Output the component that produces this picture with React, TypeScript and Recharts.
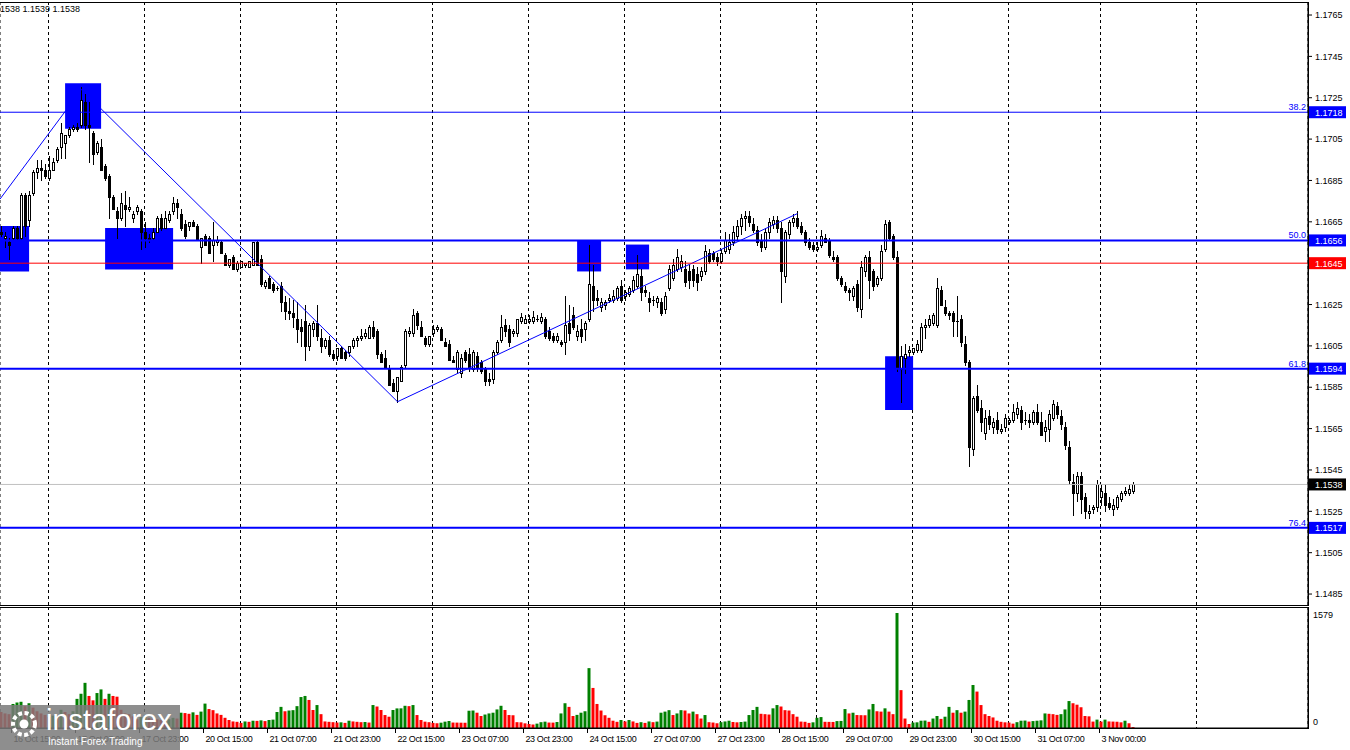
import { ComposedChart, Bar, XAxis, YAxis, CartesianGrid, ReferenceLine, ReferenceArea, Cell } from 'recharts';

type Candle = [number, number, number, number]; // open, high, low, close

const FONT = '"Liberation Sans", Arial, sans-serif';

// H1 candles, one array per trading day
const oct16: Candle[] = [
  [1.1660, 1.1663, 1.1658, 1.1659], [1.1657, 1.1660, 1.1653, 1.1658], [1.1655, 1.1657, 1.1647, 1.1654],
  [1.1657, 1.1663, 1.1656, 1.1662], [1.1662, 1.1663, 1.1656, 1.1657], [1.1657, 1.1679, 1.1656, 1.1678],
  [1.1678, 1.1679, 1.1658, 1.1663], [1.1666, 1.1680, 1.1663, 1.1678], [1.1679, 1.1690, 1.1678, 1.1689],
  [1.1689, 1.1695, 1.1686, 1.1691], [1.1691, 1.1695, 1.1685, 1.1690],
];
const oct17: Candle[] = [
  [1.1690, 1.1693, 1.1686, 1.1687], [1.1686, 1.1697, 1.1685, 1.1690], [1.1690, 1.1696, 1.1690, 1.1694],
  [1.1695, 1.1701, 1.1694, 1.1700], [1.1701, 1.1713, 1.1696, 1.1708], [1.1703, 1.1707, 1.1696, 1.1707],
  [1.1707, 1.1711, 1.1706, 1.1710], [1.1710, 1.1712, 1.1709, 1.1711], [1.1711, 1.1713, 1.1709, 1.1710],
  [1.1712, 1.1730, 1.1711, 1.1724], [1.1723, 1.1727, 1.1710, 1.1712], [1.1712, 1.1723, 1.1694, 1.1711],
  [1.1708, 1.1709, 1.1693, 1.1698], [1.1699, 1.1704, 1.1698, 1.1703], [1.1701, 1.1705, 1.1690, 1.1690],
  [1.1692, 1.1693, 1.1685, 1.1686], [1.1687, 1.1688, 1.1667, 1.1677], [1.1677, 1.1678, 1.1671, 1.1671],
  [1.1670, 1.1672, 1.1657, 1.1667], [1.1667, 1.1679, 1.1666, 1.1674], [1.1673, 1.1680, 1.1663, 1.1671],
  [1.1671, 1.1677, 1.1670, 1.1672], [1.1667, 1.1670, 1.1665, 1.1669], [1.1670, 1.1673, 1.1669, 1.1672],
];
const oct20: Candle[] = [
  [1.1670, 1.1671, 1.1652, 1.1660], [1.1660, 1.1665, 1.1653, 1.1657], [1.1657, 1.1659, 1.1655, 1.1656],
  [1.1657, 1.1662, 1.1656, 1.1660], [1.1660, 1.1668, 1.1660, 1.1667], [1.1667, 1.1669, 1.1661, 1.1662],
  [1.1662, 1.1670, 1.1662, 1.1667], [1.1666, 1.1670, 1.1665, 1.1669], [1.1670, 1.1677, 1.1669, 1.1674],
  [1.1674, 1.1676, 1.1667, 1.1672], [1.1669, 1.1671, 1.1661, 1.1662], [1.1664, 1.1666, 1.1657, 1.1658],
  [1.1663, 1.1665, 1.1661, 1.1665], [1.1665, 1.1666, 1.1663, 1.1663], [1.1663, 1.1664, 1.1656, 1.1656],
  [1.1653, 1.1657, 1.1645, 1.1657], [1.1658, 1.1659, 1.1654, 1.1654], [1.1657, 1.1658, 1.1650, 1.1650],
  [1.1654, 1.1665, 1.1646, 1.1656], [1.1655, 1.1658, 1.1654, 1.1656], [1.1655, 1.1656, 1.1650, 1.1650],
  [1.1649, 1.1650, 1.1644, 1.1644], [1.1644, 1.1647, 1.1643, 1.1647], [1.1648, 1.1649, 1.1642, 1.1642],
];
const oct21: Candle[] = [
  [1.1642, 1.1646, 1.1641, 1.1645], [1.1643, 1.1646, 1.1643, 1.1646], [1.1644, 1.1645, 1.1643, 1.1645],
  [1.1643, 1.1646, 1.1643, 1.1646], [1.1644, 1.1655, 1.1644, 1.1655], [1.1655, 1.1656, 1.1644, 1.1644],
  [1.1647, 1.1649, 1.1634, 1.1635], [1.1634, 1.1637, 1.1633, 1.1636], [1.1638, 1.1639, 1.1633, 1.1633],
  [1.1635, 1.1636, 1.1631, 1.1632], [1.1633, 1.1634, 1.1632, 1.1633], [1.1634, 1.1636, 1.1622, 1.1626],
  [1.1626, 1.1629, 1.1618, 1.1622], [1.1622, 1.1628, 1.1618, 1.1621], [1.1621, 1.1627, 1.1614, 1.1619],
  [1.1618, 1.1626, 1.1607, 1.1613], [1.1614, 1.1618, 1.1605, 1.1612], [1.1617, 1.1625, 1.1598, 1.1605],
  [1.1605, 1.1616, 1.1603, 1.1615], [1.1613, 1.1617, 1.1610, 1.1616], [1.1616, 1.1625, 1.1608, 1.1610],
  [1.1609, 1.1613, 1.1602, 1.1605], [1.1605, 1.1609, 1.1604, 1.1608], [1.1608, 1.1610, 1.1600, 1.1601],
];
const oct22: Candle[] = [
  [1.1601, 1.1603, 1.1598, 1.1599], [1.1600, 1.1604, 1.1598, 1.1604], [1.1604, 1.1605, 1.1599, 1.1599],
  [1.1602, 1.1603, 1.1598, 1.1599], [1.1602, 1.1605, 1.1600, 1.1605], [1.1605, 1.1609, 1.1604, 1.1608],
  [1.1608, 1.1610, 1.1605, 1.1609], [1.1609, 1.1613, 1.1608, 1.1610], [1.1610, 1.1613, 1.1609, 1.1611],
  [1.1609, 1.1615, 1.1609, 1.1614], [1.1614, 1.1617, 1.1609, 1.1610], [1.1612, 1.1613, 1.1599, 1.1601],
  [1.1601, 1.1602, 1.1597, 1.1597], [1.1599, 1.1603, 1.1595, 1.1595], [1.1594, 1.1596, 1.1586, 1.1586],
  [1.1587, 1.1589, 1.1583, 1.1583], [1.1583, 1.1590, 1.1578, 1.1590], [1.1588, 1.1596, 1.1588, 1.1595],
  [1.1596, 1.1613, 1.1595, 1.1612], [1.1611, 1.1614, 1.1610, 1.1612], [1.1611, 1.1623, 1.1610, 1.1620],
  [1.1621, 1.1622, 1.1613, 1.1615], [1.1614, 1.1617, 1.1610, 1.1610], [1.1609, 1.1610, 1.1605, 1.1606],
];
const oct23: Candle[] = [
  [1.1606, 1.1610, 1.1605, 1.1610], [1.1611, 1.1615, 1.1610, 1.1613], [1.1613, 1.1615, 1.1612, 1.1614],
  [1.1613, 1.1614, 1.1608, 1.1608], [1.1607, 1.1609, 1.1605, 1.1605], [1.1606, 1.1608, 1.1598, 1.1598],
  [1.1598, 1.1600, 1.1597, 1.1597], [1.1594, 1.1603, 1.1592, 1.1602], [1.1592, 1.1601, 1.1590, 1.1599],
  [1.1602, 1.1603, 1.1597, 1.1598], [1.1601, 1.1604, 1.1593, 1.1595], [1.1594, 1.1603, 1.1593, 1.1602],
  [1.1600, 1.1602, 1.1593, 1.1595], [1.1597, 1.1598, 1.1592, 1.1593], [1.1594, 1.1595, 1.1586, 1.1588],
  [1.1589, 1.1592, 1.1586, 1.1588], [1.1589, 1.1603, 1.1587, 1.1602], [1.1602, 1.1608, 1.1601, 1.1607],
  [1.1608, 1.1620, 1.1607, 1.1614], [1.1615, 1.1618, 1.1610, 1.1612], [1.1613, 1.1615, 1.1605, 1.1607],
  [1.1611, 1.1613, 1.1610, 1.1612], [1.1611, 1.1618, 1.1610, 1.1618], [1.1617, 1.1621, 1.1616, 1.1619],
];
const oct24: Candle[] = [
  [1.1616, 1.1620, 1.1616, 1.1618], [1.1617, 1.1620, 1.1616, 1.1618], [1.1617, 1.1622, 1.1616, 1.1619],
  [1.1618, 1.1620, 1.1617, 1.1618], [1.1617, 1.1621, 1.1616, 1.1619], [1.1618, 1.1619, 1.1609, 1.1610],
  [1.1612, 1.1614, 1.1608, 1.1609], [1.1610, 1.1611, 1.1607, 1.1608], [1.1608, 1.1611, 1.1607, 1.1610],
  [1.1607, 1.1608, 1.1605, 1.1606], [1.1607, 1.1629, 1.1601, 1.1615], [1.1616, 1.1625, 1.1608, 1.1611],
  [1.1620, 1.1624, 1.1613, 1.1614], [1.1610, 1.1615, 1.1608, 1.1612], [1.1613, 1.1618, 1.1607, 1.1610],
  [1.1613, 1.1617, 1.1608, 1.1616], [1.1618, 1.1654, 1.1617, 1.1635], [1.1634, 1.1644, 1.1622, 1.1627],
  [1.1628, 1.1632, 1.1625, 1.1627], [1.1624, 1.1628, 1.1622, 1.1626], [1.1625, 1.1627, 1.1623, 1.1626],
  [1.1627, 1.1630, 1.1626, 1.1628], [1.1627, 1.1632, 1.1626, 1.1629], [1.1628, 1.1634, 1.1627, 1.1633],
];
const oct27: Candle[] = [
  [1.1634, 1.1637, 1.1626, 1.1627], [1.1629, 1.1632, 1.1627, 1.1631], [1.1630, 1.1634, 1.1629, 1.1633],
  [1.1632, 1.1639, 1.1631, 1.1637], [1.1634, 1.1649, 1.1633, 1.1640], [1.1639, 1.1642, 1.1627, 1.1631],
  [1.1632, 1.1634, 1.1629, 1.1631], [1.1628, 1.1631, 1.1622, 1.1626], [1.1627, 1.1629, 1.1625, 1.1627],
  [1.1626, 1.1629, 1.1624, 1.1628], [1.1626, 1.1628, 1.1620, 1.1621], [1.1623, 1.1631, 1.1621, 1.1629],
  [1.1633, 1.1644, 1.1632, 1.1642], [1.1638, 1.1647, 1.1637, 1.1644], [1.1642, 1.1652, 1.1641, 1.1648],
  [1.1643, 1.1649, 1.1641, 1.1646], [1.1642, 1.1646, 1.1634, 1.1636], [1.1641, 1.1644, 1.1633, 1.1637],
  [1.1642, 1.1644, 1.1634, 1.1637], [1.1640, 1.1643, 1.1632, 1.1636], [1.1639, 1.1643, 1.1637, 1.1641],
  [1.1641, 1.1654, 1.1640, 1.1651], [1.1650, 1.1652, 1.1645, 1.1646], [1.1650, 1.1651, 1.1646, 1.1647],
];
const oct28: Candle[] = [
  [1.1648, 1.1650, 1.1644, 1.1646], [1.1646, 1.1652, 1.1645, 1.1650], [1.1651, 1.1660, 1.1650, 1.1656],
  [1.1652, 1.1659, 1.1650, 1.1655], [1.1655, 1.1663, 1.1654, 1.1660], [1.1658, 1.1666, 1.1656, 1.1663],
  [1.1663, 1.1669, 1.1659, 1.1667], [1.1667, 1.1670, 1.1661, 1.1668], [1.1668, 1.1670, 1.1663, 1.1665],
  [1.1664, 1.1667, 1.1660, 1.1661], [1.1661, 1.1663, 1.1654, 1.1655], [1.1656, 1.1659, 1.1651, 1.1653],
  [1.1653, 1.1662, 1.1652, 1.1660], [1.1660, 1.1667, 1.1657, 1.1665], [1.1664, 1.1668, 1.1662, 1.1666],
  [1.1666, 1.1668, 1.1660, 1.1662], [1.1662, 1.1665, 1.1626, 1.1641], [1.1639, 1.1661, 1.1636, 1.1660],
  [1.1659, 1.1666, 1.1657, 1.1665], [1.1665, 1.1669, 1.1663, 1.1667], [1.1667, 1.1670, 1.1662, 1.1663],
  [1.1663, 1.1665, 1.1659, 1.1660], [1.1660, 1.1661, 1.1654, 1.1655], [1.1655, 1.1657, 1.1652, 1.1653],
];
const oct29: Candle[] = [
  [1.1654, 1.1655, 1.1651, 1.1652], [1.1652, 1.1655, 1.1651, 1.1653], [1.1654, 1.1661, 1.1653, 1.1658],
  [1.1657, 1.1659, 1.1655, 1.1655], [1.1656, 1.1657, 1.1648, 1.1649], [1.1648, 1.1651, 1.1646, 1.1647],
  [1.1648, 1.1649, 1.1637, 1.1638], [1.1638, 1.1639, 1.1634, 1.1635], [1.1634, 1.1636, 1.1631, 1.1632],
  [1.1632, 1.1633, 1.1627, 1.1631], [1.1629, 1.1634, 1.1627, 1.1633], [1.1635, 1.1637, 1.1622, 1.1624],
  [1.1623, 1.1646, 1.1619, 1.1643], [1.1641, 1.1649, 1.1639, 1.1648], [1.1648, 1.1651, 1.1628, 1.1637],
  [1.1641, 1.1642, 1.1632, 1.1634], [1.1635, 1.1639, 1.1634, 1.1638], [1.1638, 1.1654, 1.1637, 1.1651],
  [1.1652, 1.1666, 1.1651, 1.1664], [1.1665, 1.1666, 1.1656, 1.1657], [1.1658, 1.1659, 1.1647, 1.1648],
  [1.1648, 1.1651, 1.1593, 1.1595], [1.1594, 1.1605, 1.1578, 1.1600], [1.1599, 1.1606, 1.1592, 1.1601],
];
const oct30: Candle[] = [
  [1.1602, 1.1605, 1.1600, 1.1603], [1.1602, 1.1604, 1.1601, 1.1604], [1.1603, 1.1608, 1.1602, 1.1606],
  [1.1603, 1.1616, 1.1602, 1.1614], [1.1614, 1.1618, 1.1609, 1.1615], [1.1615, 1.1620, 1.1614, 1.1618],
  [1.1616, 1.1621, 1.1615, 1.1620], [1.1615, 1.1638, 1.1614, 1.1633], [1.1632, 1.1634, 1.1625, 1.1625],
  [1.1624, 1.1627, 1.1620, 1.1621], [1.1621, 1.1622, 1.1618, 1.1620], [1.1621, 1.1622, 1.1610, 1.1617],
  [1.1617, 1.1629, 1.1610, 1.1617], [1.1618, 1.1620, 1.1605, 1.1607], [1.1606, 1.1610, 1.1596, 1.1597],
  [1.1597, 1.1598, 1.1547, 1.1556], [1.1555, 1.1581, 1.1552, 1.1580], [1.1581, 1.1586, 1.1573, 1.1574],
  [1.1575, 1.1579, 1.1564, 1.1568], [1.1563, 1.1574, 1.1560, 1.1570], [1.1571, 1.1574, 1.1565, 1.1567],
  [1.1566, 1.1570, 1.1563, 1.1568], [1.1569, 1.1573, 1.1563, 1.1565], [1.1564, 1.1567, 1.1563, 1.1565],
];
const oct31: Candle[] = [
  [1.1566, 1.1572, 1.1564, 1.1570], [1.1568, 1.1570, 1.1567, 1.1569], [1.1569, 1.1577, 1.1568, 1.1573],
  [1.1572, 1.1578, 1.1570, 1.1575], [1.1574, 1.1576, 1.1565, 1.1568], [1.1569, 1.1573, 1.1567, 1.1569],
  [1.1569, 1.1572, 1.1566, 1.1568], [1.1568, 1.1574, 1.1567, 1.1573], [1.1573, 1.1577, 1.1567, 1.1568],
  [1.1568, 1.1573, 1.1562, 1.1562], [1.1564, 1.1569, 1.1559, 1.1566], [1.1565, 1.1574, 1.1559, 1.1572],
  [1.1570, 1.1579, 1.1569, 1.1577], [1.1576, 1.1578, 1.1570, 1.1572], [1.1571, 1.1574, 1.1565, 1.1567],
  [1.1566, 1.1568, 1.1555, 1.1557], [1.1556, 1.1559, 1.1538, 1.1540], [1.1539, 1.1543, 1.1523, 1.1534],
  [1.1534, 1.1544, 1.1530, 1.1542], [1.1542, 1.1544, 1.1524, 1.1531], [1.1532, 1.1534, 1.1522, 1.1525],
  [1.1524, 1.1528, 1.1522, 1.1525], [1.1526, 1.1528, 1.1524, 1.1527],
];
const nov03: Candle[] = [
  [1.1527, 1.1540, 1.1525, 1.1538], [1.1532, 1.1538, 1.1528, 1.1535], [1.1534, 1.1538, 1.1525, 1.1528],
  [1.1529, 1.1532, 1.1526, 1.1527], [1.1526, 1.1531, 1.1523, 1.1528], [1.1527, 1.1533, 1.1526, 1.1532],
  [1.1531, 1.1535, 1.1530, 1.1534], [1.1534, 1.1537, 1.1533, 1.1535], [1.1534, 1.1538, 1.1533, 1.1536],
  [1.1535, 1.1539, 1.1534, 1.1538],
];

// tick volumes, same day split
const volOct16 = [220, 200, 190, 330, 350, 360, 300, 340, 280, 230, 200];
const volOct17 = [180, 150, 170, 160, 250, 220, 190, 230, 400, 470, 620, 440, 380, 480, 530, 400, 470, 440, 430, 250, 200, 190, 160, 120];
const volOct20 = [150, 170, 140, 130, 120, 110, 100, 120, 140, 130, 210, 205, 195, 215, 180, 225, 335, 260, 245, 200, 180, 140, 110, 90];
const volOct21 = [85, 70, 90, 85, 100, 98, 105, 95, 110, 115, 220, 290, 230, 240, 245, 300, 425, 440, 385, 247, 315, 190, 90, 85];
const volOct22 = [80, 75, 78, 70, 100, 90, 85, 80, 82, 75, 315, 295, 247, 178, 155, 247, 269, 270, 305, 300, 315, 178, 110, 87];
const volOct23 = [80, 70, 65, 73, 87, 96, 75, 74, 73, 72, 237, 240, 210, 165, 185, 200, 210, 255, 305, 247, 178, 175, 80, 78];
const volOct24 = [64, 55, 48, 60, 80, 87, 75, 74, 82, 200, 340, 290, 165, 180, 210, 230, 822, 550, 330, 240, 175, 140, 100, 85];
const volOct27 = [110, 90, 110, 90, 70, 80, 70, 90, 80, 88, 210, 225, 245, 178, 200, 245, 240, 200, 225, 190, 130, 178, 80, 75];
const volOct28 = [65, 80, 90, 100, 82, 78, 82, 88, 178, 247, 290, 195, 190, 185, 270, 315, 295, 245, 240, 190, 155, 88, 85, 70];
const volOct29 = [78, 140, 150, 85, 84, 83, 95, 97, 260, 200, 210, 178, 176, 175, 255, 330, 230, 225, 270, 225, 190, 1579, 520, 130];
const volOct30 = [55, 75, 78, 100, 102, 85, 130, 165, 125, 155, 290, 210, 245, 210, 225, 385, 590, 500, 315, 190, 165, 145, 100, 85];
const volOct31 = [78, 75, 60, 80, 100, 102, 88, 95, 100, 105, 200, 195, 190, 180, 190, 255, 370, 340, 320, 285, 165, 160, 88];
const volNov03 = [115, 88, 115, 90, 88, 86, 78, 100, 65, 12];

// time axis: bar index of each label, and the label text
const labelBars = [2, 18, 34, 50, 66, 82, 98, 114, 130, 146, 162, 178, 194, 210, 226, 242, 258, 274];
const timeLabels = [
  '16 Oct 15:00', '17 Oct 07:00', '17 Oct 23:00', '20 Oct 15:00', '21 Oct 07:00', '21 Oct 23:00',
  '22 Oct 15:00', '23 Oct 07:00', '23 Oct 23:00', '24 Oct 15:00', '27 Oct 07:00', '27 Oct 23:00',
  '28 Oct 15:00', '29 Oct 07:00', '29 Oct 23:00', '30 Oct 15:00', '31 Oct 07:00', '3 Nov 00:00',
];
// first bar of each day (grid separators)
const dayStarts = [11, 35, 59, 83, 107, 131, 155, 179, 203, 227, 251, 274, 298];

const priceTicks = [
  1.1485, 1.1505, 1.1525, 1.1545, 1.1565, 1.1585, 1.1605, 1.1625,
  1.1645, 1.1665, 1.1685, 1.1705, 1.1725, 1.1745, 1.1765,
];

const fibLevels = [
  { ratio: '38.2', price: 1.1718 },
  { ratio: '50.0', price: 1.1656 },
  { ratio: '61.8', price: 1.1594 },
  { ratio: '76.4', price: 1.1517 },
];
const levelPrice = 1.1645;
const lastPrice = 1.1538;

// zigzag swing points [bar, price]
const zigzag: [number, number][] = [[-0.375, 1.1676], [20, 1.1729], [99, 1.1578], [199, 1.1669]];

// marked zones: bar range and price range
const zones = [
  { from: -0.375, to: 6.9, hi: 1.1663, lo: 1.1641 },
  { from: 15.9, to: 24.9, hi: 1.1732, lo: 1.1710 },
  { from: 25.9, to: 42.9, hi: 1.1662, lo: 1.1642 },
  { from: 143.9, to: 149.9, hi: 1.1656, lo: 1.1641 },
  { from: 156.1, to: 161.9, hi: 1.1654, lo: 1.1642 },
  { from: 220.9, to: 227.9, hi: 1.1600, lo: 1.1574 },
];

const candles: Candle[] = [
  ...oct16, ...oct17, ...oct20, ...oct21, ...oct22, ...oct23, ...oct24,
  ...oct27, ...oct28, ...oct29, ...oct30, ...oct31, ...nov03,
];
const volumes: number[] = [
  ...volOct16, ...volOct17, ...volOct20, ...volOct21, ...volOct22, ...volOct23, ...volOct24,
  ...volOct27, ...volOct28, ...volOct29, ...volOct30, ...volOct31, ...volNov03,
];

const priceData = candles.map(([open, high, low, close], i) => ({ i, open, high, low, close, range: [low, high] }));
const volData = volumes.map((v, i) => ({ i, v, up: i > 0 && v > volumes[i - 1] }));
const maxVol = Math.max(...volumes);

// axis ticks hidden under a coloured price tag are skipped
const tagPrices = [levelPrice, lastPrice, ...fibLevels.map((f) => f.price)];
const shownPriceTicks = priceTicks.filter((t) => tagPrices.every((p) => Math.abs(p - t) > 0.0003));

const X_DOMAIN: [number, number] = [-0.375, 326.625];
const gridTicks = dayStarts.map((d) => d + 0.75);
const labelTicks = labelBars.map((b) => b + 0.5);

const CandleShape = (props: any) => {
  const { x, y, width, height, payload } = props;
  if (x == null || y == null || !payload) return null;
  const cx = Math.floor(x + width / 2) + 0.5;
  const top = Math.min(y, y + height);
  const h = Math.abs(height);
  const span = payload.high - payload.low || 1;
  const yAt = (p: number) => top + ((payload.high - p) / span) * h;
  const yo = yAt(payload.open);
  const yc = yAt(payload.close);
  const bTop = Math.round(Math.min(yo, yc)) + 0.5;
  const bBot = Math.round(Math.max(yo, yc)) + 0.5;
  const up = payload.close >= payload.open;
  return (
    <g>
      <line x1={cx} x2={cx} y1={Math.round(top)} y2={Math.round(top + h) + 1} stroke="#000" strokeWidth={1} />
      {bBot - bTop >= 1 ? (
        <rect x={cx - 1} y={bTop} width={2} height={bBot - bTop} fill={up ? '#fff' : '#000'} stroke="#000" strokeWidth={1} />
      ) : (
        <line x1={cx - 1.5} x2={cx + 1.5} y1={bTop} y2={bTop} stroke="#000" strokeWidth={1} />
      )}
    </g>
  );
};

const priceTag = (text: string, bg: string, ratio?: string) => (props: any) => {
  const vb = props.viewBox;
  if (!vb) return null;
  const right = vb.x + vb.width;
  const y = vb.y;
  return (
    <g>
      {ratio && (
        <text x={right - 2} y={y - 2} textAnchor="end" fontSize={9} fontFamily={FONT} fill="#0000ff">
          {ratio}
        </text>
      )}
      <rect x={right + 1} y={y - 6} width={37} height={12} fill={bg} />
      <text x={right + 7} y={y + 3.5} fontSize={9} fontFamily={FONT} fill="#fff">
        {text}
      </text>
    </g>
  );
};

const TimeTick = (p: any) => {
  const k = labelTicks.indexOf(p.payload?.value);
  return (
    <text x={p.x + 2} y={p.y + 9} fontSize={9} fontFamily={FONT} fill="#000" letterSpacing={-0.4}>
      {k >= 0 ? timeLabels[k] : ''}
    </text>
  );
};

const VolTick = (p: any) => {
  const v = p.payload?.value;
  return (
    <text x={p.x} y={p.y + (v === 0 ? -6 : 2)} dy="0.355em" fontSize={9} fontFamily={FONT} fill="#000">
      {v}
    </text>
  );
};

export default function App() {
  return (
    <div style={{ position: 'absolute', left: 0, top: 0, width: 1350, height: 750, background: '#fff', overflow: 'hidden' }}>
      <div style={{ position: 'absolute', left: 0, top: 0 }}>
        <ComposedChart width={1350} height={606} data={priceData} margin={{ top: 2, right: 0, bottom: 1, left: 0 }}>
          <CartesianGrid horizontal={false} stroke="#000" strokeDasharray="3 3" />
          <XAxis dataKey="i" type="number" domain={X_DOMAIN} ticks={gridTicks} interval={0} allowDataOverflow hide />
          <YAxis
            orientation="right"
            type="number"
            domain={[1.14797, 1.17713]}
            ticks={shownPriceTicks}
            interval={0}
            allowDataOverflow
            width={42}
            tickSize={4}
            tickMargin={3}
            tickFormatter={(v: number) => v.toFixed(4)}
            tick={{ fontSize: 9, fill: '#000', fontFamily: FONT }}
            tickLine={{ stroke: '#000' }}
            axisLine={{ stroke: '#000' }}
          />
          {zones.map((z, k) => (
            <ReferenceArea key={`z${k}`} x1={z.from} x2={z.to} y1={z.lo} y2={z.hi} fill="#0000ff" fillOpacity={1} stroke="none" ifOverflow="visible" />
          ))}
          <Bar dataKey="range" barSize={3} shape={CandleShape} isAnimationActive={false} />
          {zigzag.slice(1).map((pt, k) => (
            <ReferenceLine
              key={`zz${k}`}
              segment={[{ x: zigzag[k][0], y: zigzag[k][1] }, { x: pt[0], y: pt[1] }]}
              stroke="#0000ff"
              strokeWidth={1}
            />
          ))}
          <ReferenceLine y={lastPrice} stroke="#c0c0c0" strokeWidth={1} label={priceTag(lastPrice.toFixed(4), '#000')} />
          <ReferenceLine y={levelPrice} stroke="#ff0000" strokeWidth={1} label={priceTag(levelPrice.toFixed(4), '#ff0000')} />
          {fibLevels.map((f) => (
            <ReferenceLine
              key={f.ratio}
              y={f.price}
              stroke="#0000ff"
              strokeWidth={f.ratio === '38.2' ? 1 : 2}
              label={priceTag(f.price.toFixed(4), '#0000ff', f.ratio)}
            />
          ))}
        </ComposedChart>
      </div>

      <div style={{ position: 'absolute', left: 0, top: 607 }}>
        <ComposedChart width={1350} height={143} data={volData} margin={{ top: 0, right: 0, bottom: 0, left: 0 }}>
          <XAxis xAxisId="grid" dataKey="i" type="number" domain={X_DOMAIN} ticks={gridTicks} interval={0} allowDataOverflow hide />
          <CartesianGrid xAxisId="grid" horizontal={false} stroke="#000" strokeDasharray="3 3" />
          <XAxis
            dataKey="i"
            type="number"
            domain={X_DOMAIN}
            ticks={labelTicks}
            interval={0}
            allowDataOverflow
            height={22}
            tickSize={5}
            tickMargin={0}
            tick={TimeTick}
            tickLine={{ stroke: '#000' }}
            axisLine={{ stroke: '#000' }}
          />
          <YAxis
            orientation="right"
            type="number"
            domain={[0, maxVol * 1.052]}
            ticks={[0, maxVol]}
            interval={0}
            allowDataOverflow
            width={42}
            tickSize={0}
            tickMargin={5}
            tickLine={false}
            axisLine={{ stroke: '#000' }}
            tick={VolTick}
          />
          <Bar dataKey="v" barSize={3} isAnimationActive={false}>
            {volData.map((d, k) => (
              <Cell key={k} fill={d.up ? '#008000' : '#ff0000'} />
            ))}
          </Bar>
        </ComposedChart>
      </div>

      {/* panel frames */}
      <div style={{ position: 'absolute', left: 0, top: 2, width: 1309, height: 604, boxSizing: 'border-box', borderTop: '1px solid #000', borderBottom: '1px solid #000', borderRight: '1px solid #000', pointerEvents: 'none' }} />
      <div style={{ position: 'absolute', left: 0, top: 607, width: 1309, height: 122, boxSizing: 'border-box', borderTop: '1px solid #000', borderBottom: '1px solid #000', borderRight: '1px solid #000', pointerEvents: 'none' }} />

      <div style={{ position: 'absolute', left: 0, top: 4, fontFamily: FONT, fontSize: 9, color: '#000', whiteSpace: 'nowrap' }}>
        1538 1.1539 1.1538
      </div>

      <svg style={{ position: 'absolute', left: 0, top: 705 }} width={180} height={45}>
        <rect width={180} height={45} fill="#7a7a7a" fillOpacity={0.85} />
        <circle cx={24} cy={19} r={11} fill="none" stroke="#fff" strokeWidth={4} strokeDasharray="4 2.5" />
        <circle cx={24} cy={19} r={4.5} fill="#fff" />
        <text x={46} y={25} fill="#fff" fontSize={29} fontFamily={FONT}>instaforex</text>
        <text x={48} y={40} fill="#fff" fontSize={10} fontFamily={FONT}>Instant Forex Trading</text>
      </svg>
    </div>
  );
}
